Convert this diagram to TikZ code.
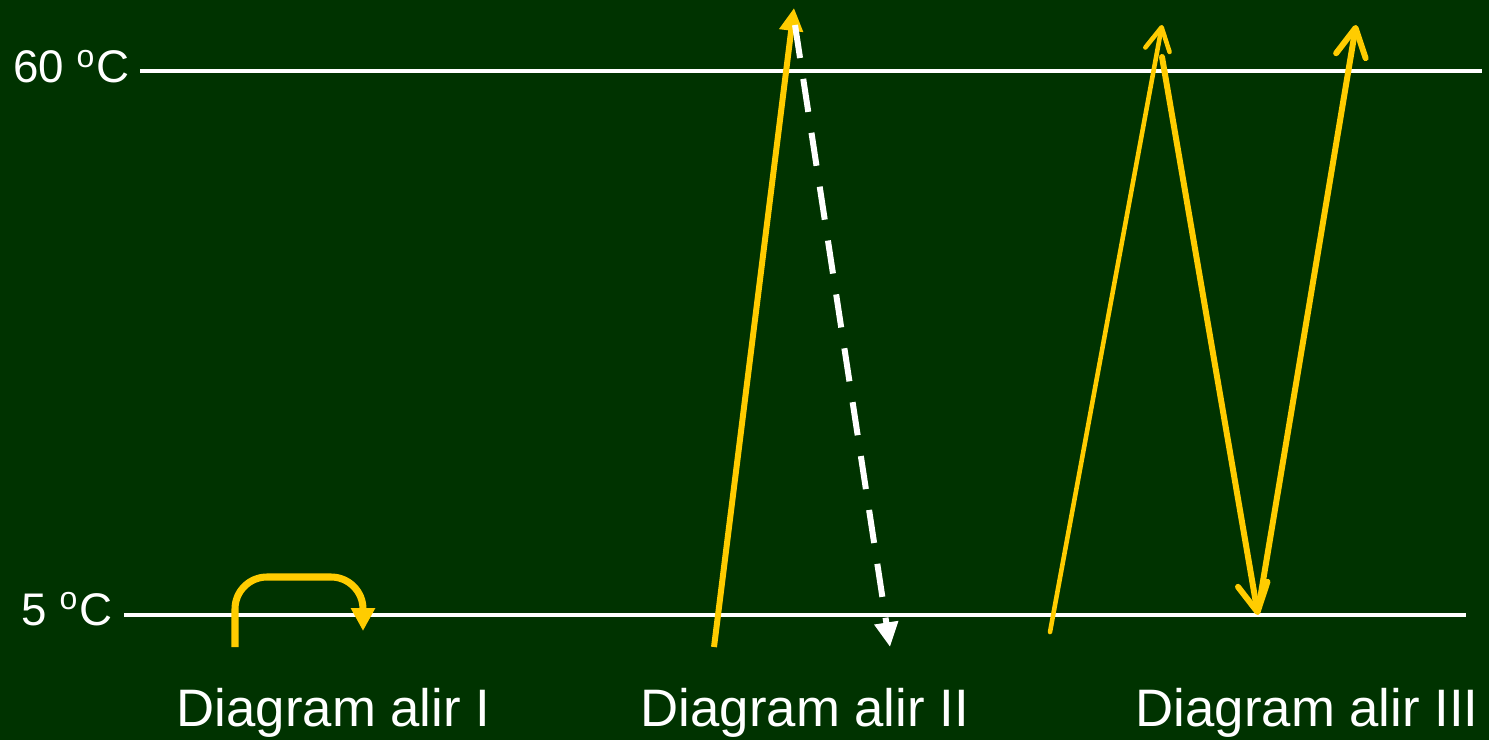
\documentclass[tikz,border=0pt]{standalone}
\usepackage{fontspec}
\setmainfont{Liberation Sans}
\usetikzlibrary{arrows.meta}
\definecolor{boardgreen}{RGB}{0,51,0}
\definecolor{chalkyellow}{RGB}{255,204,0}

\begin{document}
\begin{tikzpicture}[
    x=0.01cm, y=-0.01cm,
    level/.style={draw=white, line width=1.2pt},
    temp/.style={text=white, font=\fontsize{13}{15}\selectfont,
        anchor=base east, inner sep=0pt},
    caption/.style={text=white, font=\fontsize{15}{18}\selectfont,
        anchor=base west, inner sep=0pt},
    heat/.style={draw=chalkyellow, line width=1.7pt,
        -{Triangle[width=6.5pt,length=6.5pt]}},
    cool/.style={draw=white, line width=1.7pt, dash pattern=on 9.5pt off 6pt,
        -{Triangle[width=6.5pt,length=7pt]}},
    cycle/.style={draw=chalkyellow, line width=1.7pt, line cap=round,
        -{Straight Barb[length=8pt,width=8.5pt,round]}},
    thin cycle/.style={cycle, line width=1.3pt,
        -{Straight Barb[length=6.5pt,width=7pt,round]}}
]
    \fill[boardgreen] (0,0) rectangle (1489,740);
    \useasboundingbox (0,0) rectangle (1489,740);

    % temperature levels
    \node[temp] (t60) at (130,83) {60 \textsuperscript{o}C};
    \node[temp] (t5) at (113,625) {5 \textsuperscript{o}C};
    \coordinate (hiR) at (1482,71);
    \coordinate (loR) at (1466,615);
    \draw[level] ([xshift=0.1cm]t60.east |- hiR) -- (hiR);
    \draw[level] ([xshift=0.11cm]t5.east |- loR) -- (loR);

    % captions
    \node[caption] (labI) at (176,726) {Diagram alir I};
    \node[caption] (labII) at (640,726) {Diagram alir II};
    \node[caption] (labIII) at (1135,726) {Diagram alir III};

    % end points of the arrows
    \coordinate (c1s) at (235,647);
    \coordinate (c1e) at (363,631);
    \coordinate (c2s) at (714,647);
    \coordinate (c2t) at (794,8);
    \coordinate (c2d) at (795,25);
    \coordinate (c2b) at (890,647);
    \coordinate (c3s) at (1050,632);
    \coordinate (c3t) at (1162,25);
    \coordinate (c3u) at (1162,57);
    \coordinate (c3b) at (1258,615);
    \coordinate (c3v) at (1259,605);
    \coordinate (c3r) at (1356,25);

    % Diagram alir I
    \draw[heat, line width=2pt, rounded corners=0.32cm]
        (c1s) -- (c1s |- 0,577) -- (c1e |- 0,577) -- (c1e);
    % Diagram alir II
    \draw[heat] (c2s) -- (c2t);
    \draw[cool] (c2d) -- (c2b);
    % Diagram alir III
    \draw[thin cycle] (c3s) -- (c3t);
    \draw[cycle] (c3u) -- (c3b);
    \draw[cycle] (c3v) -- (c3r);
\end{tikzpicture}
\end{document}
